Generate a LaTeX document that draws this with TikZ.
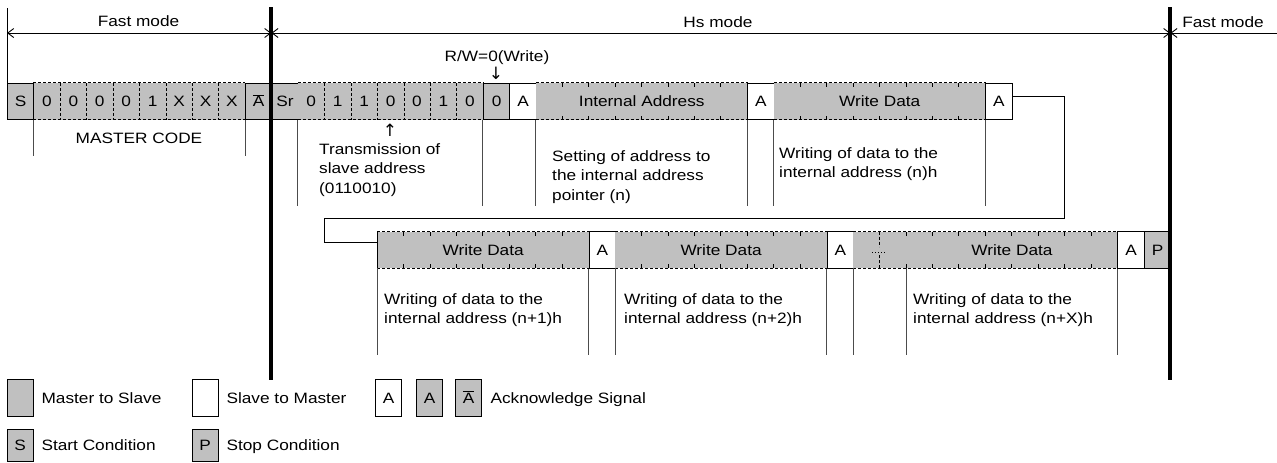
\documentclass[tikz,border=0pt]{standalone}
\usepackage{fontspec}
\setmainfont{Liberation Sans}[FakeStretch=1.15]
\newfontfamily\arr{DejaVu Sans}
\usetikzlibrary{arrows.meta}
\definecolor{cg}{HTML}{C0C0C0}
\def\U{26.44}
\begin{document}
\begin{tikzpicture}[x=1pt,y=-1pt,
  >={Straight Barb[length=6pt,width=9pt]},
  every node/.style={inner sep=0pt, font=\fontsize{15}{19.5}\selectfont},
  cell/.style={rectangle, anchor=west, minimum height=36.5pt, minimum width=26.44pt, text height=10.8pt, text depth=0pt},
  gcell/.style={cell, fill=cg},
  wcell/.style={cell, fill=white},
  gbox/.style={gcell, draw, line width=0.9pt},
  wbox/.style={wcell, draw, line width=0.9pt},
  bd/.style={line width=0.9pt},
  dsh/.style={line width=0.9pt, dash pattern=on 3pt off 2pt},
  ann/.style={line width=0.9pt, draw=black!70},
  txt/.style={align=left, anchor=north west},
  lbl/.style={anchor=west, text height=10.8pt, text depth=0pt},
  arw/.style={font=\arr\fontsize{17}{17}\selectfont}]
\useasboundingbox (0,0) rectangle (1277,463);

% ---------- row 1 ----------
\node[gbox] (s) at (7,101.25) {S};
\foreach \t [count=\i] in {0,0,0,0,1,X,X,X}
  \node[gcell] (m\i) at ({7+\U*\i},101.25) {\t};
\node[gbox] (abar) at ({7+\U*9},101.25) {$\overline{\mbox{A}}$};
\node[gbox] (sr) at ({7+\U*10},101.25) {Sr};
\foreach \t [count=\i] in {0,1,1,0,0,1,0}
  \node[gcell] (d\i) at ({7+\U*(10+\i)},101.25) {\t};
\node[gbox] (rw) at ({7+\U*18},101.25) {0};
\node[wbox] (a1) at ({7+\U*19},101.25) {A};
\node[gcell, minimum width=211.52pt] (ia) at ({7+\U*20},101.25) {Internal Address};
\node[wbox] (a2) at ({7+\U*28},101.25) {A};
\node[gcell, minimum width=211.52pt] (w1) at ({7+\U*29},101.25) {Write Data};
\node[wbox] (a3) at ({7+\U*37},101.25) {A};

% dashed bit fields
\draw[dsh] (m1.north west) -- (m8.north east);
\draw[dsh] (m1.south west) -- (m8.south east);
\foreach \i in {1,...,7} \draw[dsh] (m\i.north east) -- (m\i.south east);
\draw[dsh] (d1.north west) -- (d7.north east);
\draw[dsh] (d1.south west) -- (d7.south east);
\foreach \i in {1,...,6} \draw[dsh] (d\i.north east) -- (d\i.south east);
% byte fields with ticks
\foreach \f in {ia,w1} {
  \draw[dsh] (\f.north west) -- (\f.north east);
  \draw[dsh] (\f.south west) -- (\f.south east);
  \foreach \j in {1,...,7} {
    \draw[bd] ([xshift={\j*\U*1pt}]\f.north west) -- ++(0,4);
    \draw[bd] ([xshift={\j*\U*1pt}]\f.south west) -- ++(0,-4);
  }
}

% ---------- row 2 ----------
\node[gcell, minimum width=211.52pt] (w2) at ({7+\U*14},250) {Write Data};
\node[wbox] (a4) at ({7+\U*22},250) {A};
\node[gcell, minimum width=211.52pt] (w3) at ({7+\U*23},250) {Write Data};
\node[wbox] (a5) at ({7+\U*31},250) {A};
\node[gcell, minimum width=52.88pt] (dt) at ({7+\U*32},250) {};
\node[gcell, minimum width=211.52pt] (w4) at ({7+\U*34},250) {Write Data};
\node[wbox] (a6) at ({7+\U*42},250) {A};
\node[gbox] (p) at ({7+\U*43},250) {P};
\draw[bd] (w2.north west) -- (w2.south west);
\foreach \f in {w2,w3} {
  \draw[dsh] (\f.north west) -- (\f.north east);
  \draw[dsh] (\f.south west) -- (\f.south east);
  \foreach \j in {1,...,7} {
    \draw[bd] ([xshift={\j*\U*1pt}]\f.north west) -- ++(0,4);
    \draw[bd] ([xshift={\j*\U*1pt}]\f.south west) -- ++(0,-4);
  }
}
\draw[dsh] (dt.north west) -- (w4.north east);
\draw[dsh] (dt.south west) -- (w4.south east);
\foreach \j in {0,...,7} {
  \draw[bd] ([xshift={\j*\U*1pt}]w4.north west) -- ++(0,4);
  \draw[bd] ([xshift={\j*\U*1pt}]w4.south west) -- ++(0,-4);
}
\draw[dsh] (dt.north) -- ++(0,15);
\draw[dsh] (dt.south) -- ++(0,-13);
\draw[line width=0.9pt, dash pattern=on 1pt off 2pt] ([xshift=-7.5pt,yshift=-2pt]dt.center) -- ++(15,0);

% ---------- loop connector ----------
\coordinate (lp1) at ({7+\U*40},218.3);
\coordinate (lp2) at ({7+\U*12},218.3);
\draw[bd] ([yshift=5.25pt]a3.east) -| (lp1) -- (lp2) |- ([yshift=7.3pt]w2.west);

% ---------- annotation lines ----------
\foreach \n in {d1,rw,ia,a2,w1,a3} \draw[ann] (\n.south west) -- ++(0,86.5);
\foreach \n in {m1,abar} \draw[ann] (\n.south west) -- ++(0,36.5);
\foreach \n in {w2,a4,w3,a5,dt,w4,a6} \draw[ann] (\n.south west) -- ++(0,86.7);

% ---------- mode lines ----------
\coordinate (ml0) at (7,33);
\coordinate (ml1) at ({7+\U*10},33);
\coordinate (ml2) at ({7+\U*44},33);
\coordinate (ml3) at (1277,33);
\draw[bd] (7,8) -- (s.north west);
\draw[bd, <->] (ml0) -- (ml1);
\draw[bd, <->] (ml1) -- (ml2);
\draw[bd, <-] (ml2) -- (ml3);
\draw[line width=4pt] ({7+\U*10},7) -- ({7+\U*10},380);
\draw[line width=4pt] ({7+\U*44},7) -- ({7+\U*44},380);

% ---------- labels ----------
\node (fm1) at (138.5,21) {Fast mode};
\node (hs) at (718,22) {Hs mode};
\node (fm2) at (1223,22) {Fast mode};
\node (mc) at (139,138) {MASTER CODE};
\node (rwl) at (497,58) {R/W=0(Write)};
\node[arw] (dn) at (496,73) {↓};
\node[arw] (up) at (390,130) {↑};
\node[txt] (tx1) at (319,143) {Transmission of\\slave address\\(0110010)};
\node[txt] (tx2) at (552,150) {Setting of address to\\the internal address\\pointer (n)};
\node[txt] (tx3) at (779,147) {Writing of data to the\\internal address (n)h};
\node[txt] (tx4) at (384,293) {Writing of data to the\\internal address (n+1)h};
\node[txt] (tx5) at (624,293) {Writing of data to the\\internal address (n+2)h};
\node[txt] (tx6) at (913,293) {Writing of data to the\\internal address (n+X)h};

% ---------- legend ----------
\node[gbox, minimum height=36.5pt] (lg1) at (6.5,397.7) {};
\node[lbl] at ([xshift=7.5pt]lg1.east) {Master to Slave};
\node[wbox, minimum height=36.5pt] (lg2) at (191.5,397.7) {};
\node[lbl] at ([xshift=7.5pt]lg2.east) {Slave to Master};
\node[wbox, minimum height=36.5pt] (lg3) at (375,397.7) {A};
\node[gbox, minimum height=36.5pt] (lg4) at (416,397.7) {A};
\node[gbox, minimum height=36.5pt] (lg5) at (455,397.7) {$\overline{\mbox{A}}$};
\node[lbl] at ([xshift=8pt]lg5.east) {Acknowledge Signal};
\node[gbox, minimum height=32.5pt] (lg6) at (6.5,445.5) {S};
\node[lbl] at ([xshift=7.5pt]lg6.east) {Start Condition};
\node[gbox, minimum height=32.5pt] (lg7) at (191.5,445.5) {P};
\node[lbl] at ([xshift=7.5pt]lg7.east) {Stop Condition};
\end{tikzpicture}
\end{document}
